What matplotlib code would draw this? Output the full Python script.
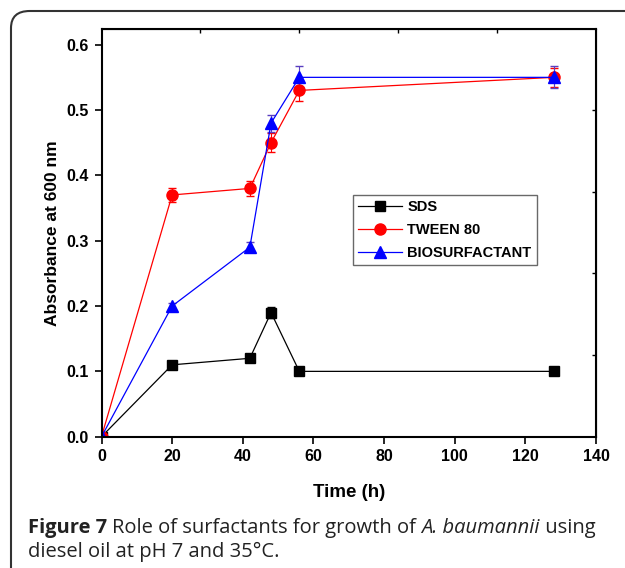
import matplotlib.pyplot as plt
from matplotlib.patches import FancyBboxPatch
from matplotlib.lines import Line2D

# data
time_h = [0, 20, 42, 48, 56, 128]
sds = [0.0, 0.11, 0.12, 0.19, 0.10, 0.10]
sds_err = [0.0, 0.003, 0.003, 0.008, 0.003, 0.003]
tween = [0.0, 0.37, 0.38, 0.45, 0.53, 0.55]
tween_err = [0.0, 0.011, 0.011, 0.015, 0.016, 0.015]
bio = [0.0, 0.20, 0.29, 0.48, 0.55, 0.55]
bio_err = [0.0, 0.005, 0.008, 0.013, 0.017, 0.017]

fig = plt.figure(figsize=(6.25, 5.68), dpi=100)
W, H = 625, 568

# outer rounded frame (runs off the right/bottom edge)
frame = FancyBboxPatch((11 / W, -20 / H), 640 / W, (H - 11 + 20) / H,
                       boxstyle='round,pad=0,rounding_size=0.03',
                       transform=fig.transFigure, fill=False,
                       edgecolor='#333333', linewidth=1.5)
fig.patches.append(frame)

ax = fig.add_axes([101.5 / W, 1 - 436.7 / H, (596 - 101.5) / W, (436.7 - 29) / H])

styles = [('SDS', sds, sds_err, 'black', 's', 7, 'black'),
          ('TWEEN 80', tween, tween_err, 'red', 'o', 8, 'red'),
          ('BIOSURFACTANT', bio, bio_err, 'blue', '^', 8, '#5a3fc0')]
handles = []
for name, vals, err, col, mk, ms, ecol in styles:
    ax.errorbar(time_h, vals, yerr=err, color=col, marker=mk, markersize=ms,
                linewidth=0.9, capsize=3, elinewidth=0.8, ecolor=ecol)
    handles.append(Line2D([], [], color=col, marker=mk, markersize=ms, linewidth=0.9, label=name))

ax.set_xlim(0, 140)
ax.set_ylim(0, 0.624)
ax.set_xticks([0, 20, 40, 60, 80, 100, 120, 140])
ax.set_yticks([0.0, 0.1, 0.2, 0.3, 0.4, 0.5, 0.6])
ax.set_yticklabels(['0.0', '0.1', '0.2', '0.3', '0.4', '0.5', '0.6'])

for lab in ax.get_xticklabels() + ax.get_yticklabels():
    lab.set_fontfamily('Liberation Sans')
    lab.set_fontweight('bold')
    lab.set_fontsize(11.5)
ax.tick_params(direction='out', length=5, width=1.2, pad=4)
for s in ax.spines.values():
    s.set_linewidth(1.5)

# small inward ticks on top and right
top = ax.secondary_xaxis('top')
top.set_xticks([28, 56, 84, 112])
top.tick_params(direction='in', length=3, width=1, labeltop=False)
right = ax.secondary_yaxis('right')
right.set_yticks([0.125, 0.25, 0.375, 0.5])
right.tick_params(direction='in', length=3, width=1, labelright=False)

ax.set_xlabel('Time (h)', fontfamily='Liberation Sans', fontweight='bold', fontsize=13.5, labelpad=14)
ax.set_ylabel('Absorbance at 600 nm', fontfamily='Liberation Sans', fontweight='bold', fontsize=12.5, labelpad=5)

leg = ax.legend(handles=handles, loc='upper left',
                bbox_to_anchor=((352.7 - 101.5) / 494.5, (436.7 - 195) / 407.7),
                prop=dict(family='Liberation Sans', weight='bold', size=10.5),
                frameon=True, fancybox=False, edgecolor='#444444', handlelength=3.0,
                borderpad=0.35, labelspacing=0.62, handletextpad=0.4, borderaxespad=0)
leg.get_frame().set_linewidth(1.0)

# caption, laid out piece by piece
cap_size = 14.5
cap_col = '#222222'
fig.canvas.draw()
r = fig.canvas.get_renderer()
x = 28
pieces = [('Figure 7 ', 'bold', 'normal'), ('Role of surfactants for growth of ', 'normal', 'normal'),
          ('A. baumannii', 'normal', 'italic'), (' using', 'normal', 'normal')]
for txt, wt, st in pieces:
    t = fig.text(x / W, 1 - 528 / H, txt, fontfamily='Open Sans', fontweight=wt, fontstyle=st,
                 fontsize=cap_size, va='center', color=cap_col)
    x += t.get_window_extent(renderer=r).width
fig.text(28 / W, 1 - 552 / H, 'diesel oil at pH 7 and 35°C.', fontfamily='Open Sans',
         fontsize=cap_size, va='center', color=cap_col)

fig.savefig('out.png', dpi=100)
